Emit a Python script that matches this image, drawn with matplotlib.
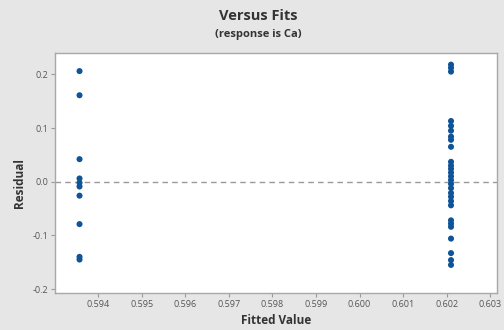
import matplotlib
matplotlib.use("Agg")
import matplotlib.pyplot as plt
import numpy as np

# Fitted values for the two groups
fit_low = 0.59357
fit_high = 0.60210

# Residuals in each group
resid_low = [0.206, 0.161, 0.042, 0.006, -0.002, -0.009, -0.026, -0.079, -0.140, -0.145]
resid_high = [0.218, 0.212, 0.205, 0.113, 0.104, 0.095, 0.084, 0.078, 0.065,
              0.037, 0.030, 0.024, 0.017, 0.010, 0.003, -0.004, -0.012, -0.021,
              -0.028, -0.036, -0.044, -0.072, -0.078, -0.084, -0.106, -0.133,
              -0.146, -0.155]

x_ticks = [0.594, 0.595, 0.596, 0.597, 0.598, 0.599, 0.600, 0.601, 0.602, 0.603]
y_ticks = [-0.2, -0.1, 0.0, 0.1, 0.2]

plt.rcParams['font.family'] = ['Open Sans', 'DejaVu Sans']
bg = '#e6e6e6'
txt = '#333333'
edge = '#9a9a9a'

fig = plt.figure(figsize=(5.04, 3.30), dpi=100, facecolor=bg)
ax = fig.add_axes([55/504, 1 - 293/330, (497 - 55)/504, (293 - 53)/330])
ax.set_facecolor('white')

x = [fit_low] * len(resid_low) + [fit_high] * len(resid_high)
y = resid_low + resid_high
ax.scatter(x, y, s=19, color='#0f5398', edgecolors='none', zorder=3)
ax.axhline(0.0, color='#999999', lw=1, ls=(0, (4, 3)), zorder=2)

ax.set_xlim(0.593007, 0.603156)
ax.set_ylim(-0.2073, 0.2397)
ax.set_xticks(x_ticks)
ax.set_xticklabels([f"{v:.3f}" for v in x_ticks])
ax.set_yticks(y_ticks)
ax.set_yticklabels([f"{v:.1f}" for v in y_ticks])
ax.tick_params(axis='both', labelsize=6.5, colors=edge, labelcolor='#555555',
               length=3, width=0.8, pad=2)

for s in ax.spines.values():
    s.set_color('#a8a8a8')
    s.set_linewidth(1)

fig.text(258/504, 1 - 16/330, 'Versus Fits', ha='center', va='center',
         fontsize=10.5, fontweight='bold', color=txt)
fig.text(258/504, 1 - 35/330, '(response is Ca)', ha='center', va='center',
         fontsize=8, fontweight='bold', color=txt)
fig.text(276/504, 1 - 321/330, 'Fitted Value', ha='center', va='center',
         fontsize=8.5, fontweight='bold', color=txt)
fig.text(20/504, 1 - 183/330, 'Residual', ha='center', va='center',
         rotation=90, fontsize=8.5, fontweight='bold', color=txt)

fig.savefig('out.png', dpi=100, facecolor=bg)
